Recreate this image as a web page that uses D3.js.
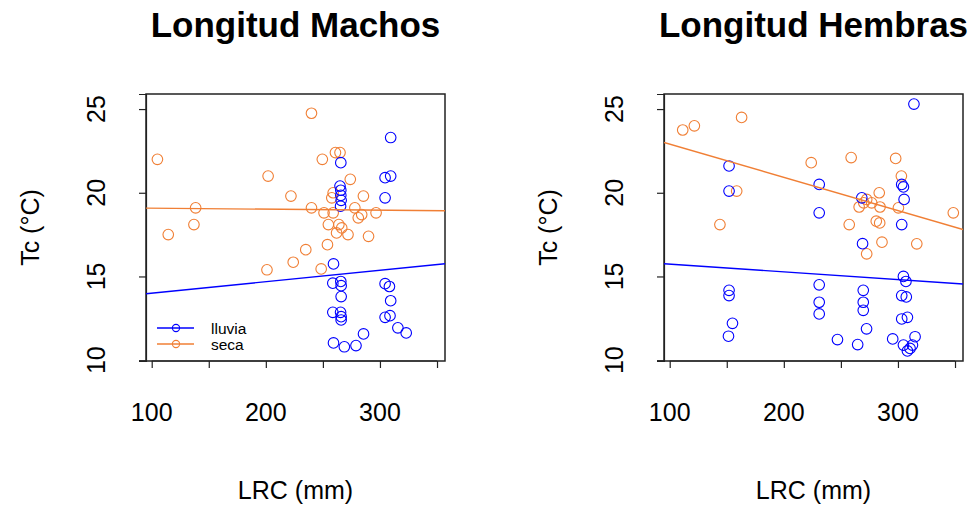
<!DOCTYPE html>
<html>
<head>
<meta charset="utf-8">
<script src="https://cdn.jsdelivr.net/npm/d3@7"></script>
<style>
  body { margin: 0; background: #fff; }
  svg text { font-family: "Liberation Sans", Arial, sans-serif; fill: #000; }
</style>
</head>
<body>
<div id="chart"></div>
<script>
// tick values shared by both panels
var xTicks = [100, 150, 200, 250, 300, 350];
var xTickLabels = [100, 200, 300];
var yTicks = [10, 15, 20, 25];

// Longitud Machos: [LRC, Tc]
var machosLluvia = [
  [309.4, 23.3], [265.7, 21.8], [304.5, 20.9], [309.4, 21.0], [304.5, 19.7],
  [265, 20.4], [265.7, 20.15], [265.7, 19.85], [266, 19.55], [265.5, 19.2],
  [259.3, 15.75], [258.7, 14.6], [265.7, 14.7], [266, 14.45], [266, 13.8],
  [258.7, 12.86], [265.5, 12.86], [266, 12.6], [266, 12.4], [259.3, 11.03],
  [268.8, 10.8], [279, 10.87], [285.6, 11.57], [304.5, 14.57], [308.3, 14.4],
  [309.4, 13.55], [304.5, 12.56], [308.8, 12.66], [315.7, 11.93], [323, 11.63]
];
var machosSeca = [
  [105, 22.0], [114.5, 17.5], [138.5, 19.1], [137, 18.1], [202, 21.0],
  [201, 15.4], [222, 19.8], [224, 15.85], [235, 16.6], [240, 24.75],
  [240, 19.1], [248.5, 15.45], [249.5, 22.0], [251, 18.8], [254, 16.9],
  [254.8, 18.1], [259, 20.0], [259, 18.8], [261, 22.4], [265, 22.4],
  [264, 18.1], [266.5, 17.9], [262, 17.6], [272, 17.5], [274, 20.8],
  [278, 19.1], [281, 18.5], [284, 18.7], [285.5, 19.8], [290, 17.4],
  [296.6, 18.8], [257.8, 19.7]
];

// Longitud Hembras: [LRC, Tc]
var hembrasLluvia = [
  [152, 21.6], [152, 20.1], [152, 14.17], [152, 13.86], [155, 12.2],
  [151.5, 11.43], [314, 25.3], [231, 20.5], [231, 18.8], [268.3, 19.7],
  [303.3, 20.5], [304.8, 20.35], [305.4, 19.6], [303.3, 18.1], [231, 14.5],
  [231, 13.46], [231, 12.76], [269, 16.96], [269.6, 14.17], [269.6, 13.46],
  [269.6, 12.98], [272.5, 11.87], [247, 11.23], [264.7, 10.93], [304.8, 15.0],
  [307, 14.7], [303.3, 13.86], [307.3, 13.78], [303.3, 12.46], [308.3, 12.56],
  [295.4, 11.27], [315, 11.4], [304.8, 10.9], [310.6, 10.7], [308.3, 10.55],
  [312.7, 10.9]
];
var hembrasSeca = [
  [111.4, 23.75], [121.6, 24.0], [163, 24.5], [158.7, 20.1], [144, 18.1],
  [224, 21.8], [259, 22.1], [298, 22.05], [303, 21.0], [283.6, 20.0],
  [348.5, 18.8], [272.6, 19.6], [266, 19.15], [277, 19.4], [284.3, 19.15],
  [300.4, 19.1], [257.3, 18.1], [281, 18.3], [284, 18.2], [286, 17.05],
  [272.6, 16.35], [316.5, 16.95], [270, 19.4]
];

// fitted lines: [intercept, slope]
var machosFitLluvia = [13.32, 0.00683];
var machosFitSeca = [19.14, -0.0006];
var hembrasFitLluvia = [16.2, -0.00462];
var hembrasFitSeca = [24.89, -0.01985];

var legendLabels = ["lluvia", "seca"];
var colLluvia = "#0000ff", colSeca = "#f07f35";

var W = 974, H = 507;
var svg = d3.select("#chart").append("svg")
  .attr("width", W).attr("height", H);

var xDomain = [95, 357], yDomain = [9.95, 25.9];

function drawPanel(left, right, title, lluvia, seca, fitL, fitS, legend) {
  var top = 94, bottom = 361;
  var x = d3.scaleLinear().domain(xDomain).range([left, right]);
  var y = d3.scaleLinear().domain(yDomain).range([bottom, top]);
  var g = svg.append("g");
  var cx = (left + right) / 2;

  // title
  g.append("text")
    .attr("x", cx).attr("y", 37)
    .attr("text-anchor", "middle")
    .style("font-size", "35px").style("font-weight", "bold")
    .text(title);

  // x axis
  var xa = g.append("g")
    .attr("transform", "translate(0," + bottom + ")")
    .call(d3.axisBottom(x).tickValues(xTicks).tickSize(7).tickFormat(""));
  xa.select(".domain").attr("d", "M" + x(100) + ",0H" + x(350));
  xa.selectAll("line, path").attr("stroke", "#222").attr("stroke-width", 1.2);
  g.selectAll(".xlab").data(xTickLabels).enter().append("text")
    .attr("x", function (d) { return x(d); })
    .attr("y", 421)
    .attr("text-anchor", "middle")
    .style("font-size", "25px")
    .text(function (d) { return d; });
  g.append("text")
    .attr("x", cx).attr("y", 499)
    .attr("text-anchor", "middle")
    .style("font-size", "25px")
    .text("LRC (mm)");

  // y axis
  var ya = g.append("g")
    .attr("transform", "translate(" + left + ",0)")
    .call(d3.axisLeft(y).tickValues(yTicks).tickSize(7).tickFormat(""));
  ya.selectAll("line, path").attr("stroke", "#222").attr("stroke-width", 1.2);
  g.selectAll(".ylab").data(yTicks).enter().append("text")
    .attr("transform", function (d) {
      return "translate(" + (left - 41) + "," + y(d) + ") rotate(-90)";
    })
    .attr("text-anchor", "middle")
    .style("font-size", "25px")
    .text(function (d) { return d; });
  g.append("text")
    .attr("transform", "translate(" + (left - 107) + "," + ((top + bottom) / 2) + ") rotate(-90)")
    .attr("text-anchor", "middle")
    .style("font-size", "25px")
    .text("Tc (°C)");

  // plot box
  g.append("rect")
    .attr("x", left).attr("y", top)
    .attr("width", right - left).attr("height", bottom - top)
    .attr("fill", "none").attr("stroke", "#222").attr("stroke-width", 1.5);

  // points
  var clip = "clip" + Math.round(left);
  svg.append("clipPath").attr("id", clip).append("rect")
    .attr("x", left).attr("y", top)
    .attr("width", right - left).attr("height", bottom - top);

  [[seca, colSeca], [lluvia, colLluvia]].forEach(function (s) {
    g.selectAll(null).data(s[0]).enter().append("circle")
      .attr("cx", function (d) { return x(d[0]); })
      .attr("cy", function (d) { return y(d[1]); })
      .attr("r", 5.3)
      .attr("fill", "none")
      .attr("stroke", s[1])
      .attr("stroke-width", 1.1);
  });

  // fitted lines
  [[fitL, colLluvia], [fitS, colSeca]].forEach(function (f) {
    var line = d3.line()
      .x(function (d) { return x(d); })
      .y(function (d) { return y(f[0][0] + f[0][1] * d); });
    g.append("path")
      .datum(xDomain)
      .attr("d", line)
      .attr("clip-path", "url(#" + clip + ")")
      .attr("fill", "none")
      .attr("stroke", f[1])
      .attr("stroke-width", 1.4);
  });

  if (legend) {
    var lx = left + 11, ly = 328;
    legendLabels.forEach(function (lab, i) {
      var col = i === 0 ? colLluvia : colSeca;
      var yy = ly + i * 16;
      g.append("line")
        .attr("x1", lx).attr("x2", lx + 37)
        .attr("y1", yy).attr("y2", yy)
        .attr("stroke", col).attr("stroke-width", 1.4);
      g.append("circle")
        .attr("cx", lx + 19).attr("cy", yy).attr("r", 3.6)
        .attr("fill", "none").attr("stroke", col).attr("stroke-width", 1.1);
      g.append("text")
        .attr("x", lx + 54).attr("y", yy + 5.5)
        .style("font-size", "15.5px")
        .text(lab);
    });
  }
}

drawPanel(146, 445, "Longitud Machos", machosLluvia, machosSeca,
  machosFitLluvia, machosFitSeca, true);
drawPanel(664, 963, "Longitud Hembras", hembrasLluvia, hembrasSeca,
  hembrasFitLluvia, hembrasFitSeca, false);
</script>
</body>
</html>
